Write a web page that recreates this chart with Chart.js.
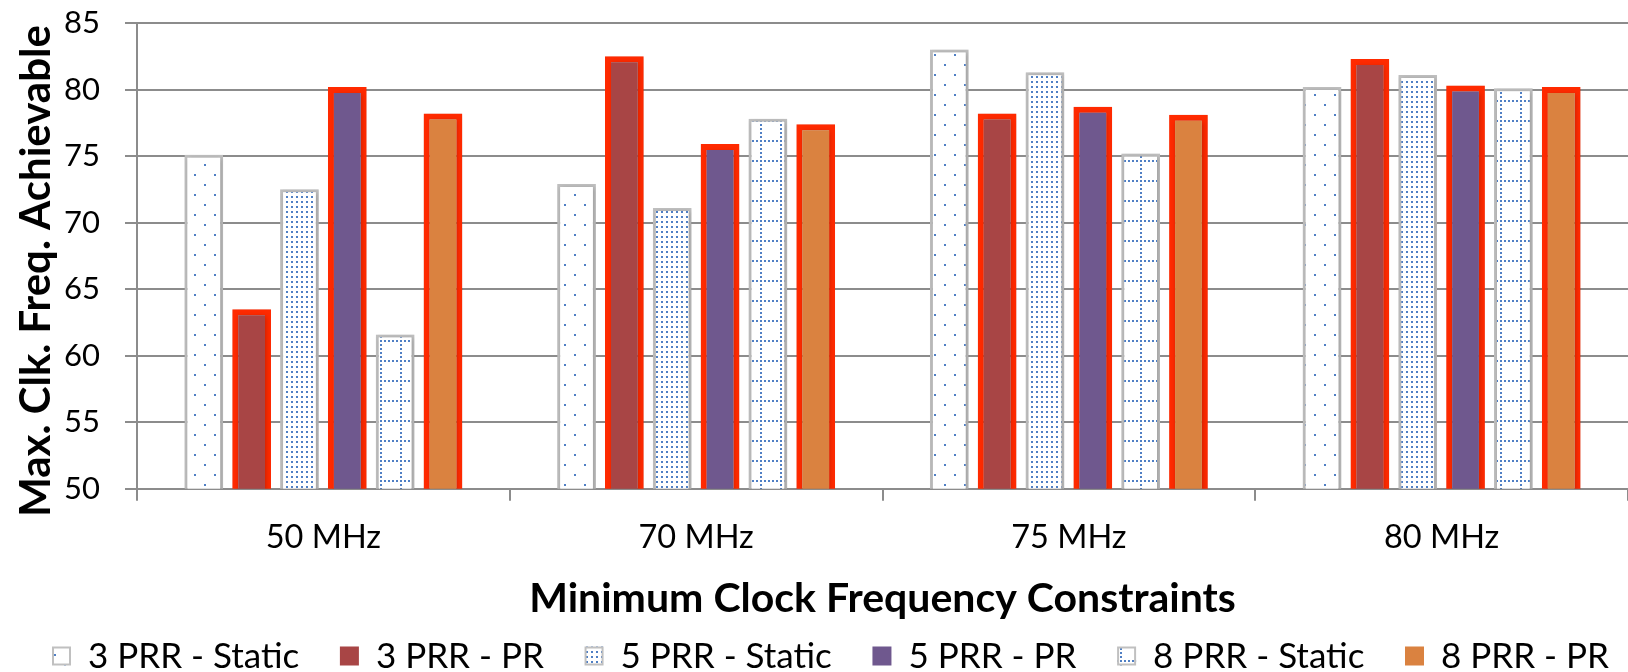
<!DOCTYPE html>
<html>
<head>
<meta charset="utf-8">
<script src="https://cdn.jsdelivr.net/npm/chart.js@4/dist/chart.umd.min.js"></script>
<style>
  html, body { margin: 0; padding: 0; background: #ffffff; }
  #wrap { width: 1628px; height: 672px; position: relative; }
</style>
</head>
<body>
<div id="wrap"><canvas id="chart" width="1628" height="672"></canvas></div>
<script>
// Clock-frequency results per constraint
const categories = ['50 MHz', '70 MHz', '75 MHz', '80 MHz'];
const prr3Static = [75.1, 72.9, 83.0, 80.2];
const prr3PR     = [63.5, 82.5, 78.2, 82.3];
const prr5Static = [72.5, 71.1, 81.3, 81.1];
const prr5PR     = [80.2, 75.9, 78.7, 80.3];
const prr8Static = [61.6, 77.8, 75.2, 80.1];
const prr8PR     = [78.2, 77.4, 78.1, 80.2];
const seriesNames = ['3 PRR - Static', '3 PRR - PR', '5 PRR - Static', '5 PRR - PR', '8 PRR - Static', '8 PRR - PR'];
const yTicks = [50, 55, 60, 65, 70, 75, 80, 85];
const yTitle = 'Max. Clk. Freq. Achievable';
const xTitle = 'Minimum Clock Frequency Constraints';

const FONT = 'Lato';
const DOT = '#4f7fc4';
const STATIC_EDGE = '#c0c0c0';
const PR_EDGE = '#ff2a00';
const GRID = '#8c8c8c';

// Fill patterns for the static series
function makePattern(w, h, paint) {
  const c = document.createElement('canvas');
  c.width = w; c.height = h;
  const g = c.getContext('2d');
  g.fillStyle = '#ffffff';
  g.fillRect(0, 0, w, h);
  g.fillStyle = DOT;
  paint(g);
  return document.getElementById('chart').getContext('2d').createPattern(c, 'repeat');
}
const sparseDots = makePattern(20, 20, g => {
  g.fillRect(4, 4, 2, 2);
  g.fillRect(14, 14, 2, 2);
});
const denseDots = makePattern(5, 5, g => {
  g.fillRect(1, 1, 2, 2);
});
const dottedGrid = makePattern(20, 20, g => {
  for (let i = 0; i < 20; i += 4) {
    g.fillRect(i, 0, 2, 2);
    if (i > 0) g.fillRect(0, i, 2, 2);
  }
});

function staticSet(label, data, fill) {
  return {
    label, data,
    backgroundColor: fill,
    borderColor: STATIC_EDGE,
    borderWidth: 3,
    borderSkipped: false
  };
}
function prSet(label, data, fill) {
  return {
    label, data,
    backgroundColor: fill,
    borderColor: PR_EDGE,
    borderWidth: 6,
    borderSkipped: false
  };
}

const datasets = [
  staticSet(seriesNames[0], prr3Static, sparseDots),
  prSet(seriesNames[1], prr3PR, '#a84545'),
  staticSet(seriesNames[2], prr5Static, denseDots),
  prSet(seriesNames[3], prr5PR, '#6f588e'),
  staticSet(seriesNames[4], prr8Static, dottedGrid),
  prSet(seriesNames[5], prr8PR, '#da8240')
];

// Soft drop shadow under the bars
const barShadow = {
  id: 'barShadow',
  beforeDatasetsDraw(chart) {
    const ctx = chart.ctx;
    ctx.save();
    ctx.shadowColor = 'rgba(0,0,0,0.22)';
    ctx.shadowBlur = 5;
    ctx.shadowOffsetX = 1;
    ctx.shadowOffsetY = 1;
  },
  afterDatasetsDraw(chart) {
    chart.ctx.restore();
  }
};

// Vertical axis title and the legend row along the bottom edge
const annotations = {
  id: 'annotations',
  afterDraw(chart) {
    const ctx = chart.ctx;
    ctx.save();
    ctx.fillStyle = '#000000';
    ctx.font = 'bold 42px ' + FONT;
    ctx.textAlign = 'center';
    ctx.textBaseline = 'middle';
    ctx.translate(36, 271);
    ctx.rotate(-Math.PI / 2);
    ctx.fillText(yTitle, 0, 0);
    ctx.restore();

    ctx.save();
    const box = 19, gapText = 17, fontSize = 35;
    const left = 52, right = 1609, centerY = 656;
    ctx.font = fontSize + 'px ' + FONT;
    const items = chart.data.datasets;
    const widths = items.map(d => ctx.measureText(d.label).width);
    const used = widths.reduce((s, w) => s + box + gapText + w, 0);
    const gapItem = (right - left - used) / (items.length - 1);
    let x = left;
    ctx.textBaseline = 'middle';
    items.forEach((d, i) => {
      const by = centerY - box / 2;
      ctx.fillStyle = d.backgroundColor;
      ctx.fillRect(x, by, box, box);
      if (d.borderColor === STATIC_EDGE) {
        ctx.strokeStyle = STATIC_EDGE;
        ctx.lineWidth = 2;
        ctx.strokeRect(x + 1, by + 1, box - 2, box - 2);
      }
      ctx.fillStyle = '#000000';
      ctx.fillText(d.label, x + box + gapText, centerY + 1);
      x += box + gapText + widths[i] + gapItem;
    });
    ctx.restore();
  }
};

new Chart(document.getElementById('chart'), {
  type: 'bar',
  data: { labels: categories, datasets },
  plugins: [barShadow, annotations],
  options: {
    responsive: false,
    animation: false,
    layout: { padding: { left: 0, right: 0, top: 23, bottom: 49 } },
    datasets: { bar: { categoryPercentage: 0.77, barPercentage: 0.81 } },
    plugins: {
      legend: { display: false },
      tooltip: { enabled: false }
    },
    scales: {
      y: {
        min: 50, max: 85,
        afterBuildTicks(scale) { scale.ticks = yTicks.map(v => ({ value: v })); },
        afterFit(scale) {
          scale.width = 137;
          scale.paddingTop = 0;
          scale.paddingBottom = 0;
        },
        ticks: { color: '#000000', font: { family: FONT, size: 31 }, padding: 25 },
        grid: { color: GRID, lineWidth: 2, tickLength: 12 },
        border: { color: GRID, width: 2 }
      },
      x: {
        ticks: { color: '#000000', font: { family: FONT, size: 32.5 }, padding: 17 },
        grid: { offset: true, drawOnChartArea: false, color: GRID, lineWidth: 2, tickLength: 12 },
        border: { color: GRID, width: 2 },
        title: {
          display: true,
          text: xTitle,
          color: '#000000',
          font: { family: FONT, size: 41, weight: 'bold' },
          padding: { top: 0, bottom: 0 }
        }
      }
    }
  }
});
</script>
</body>
</html>
